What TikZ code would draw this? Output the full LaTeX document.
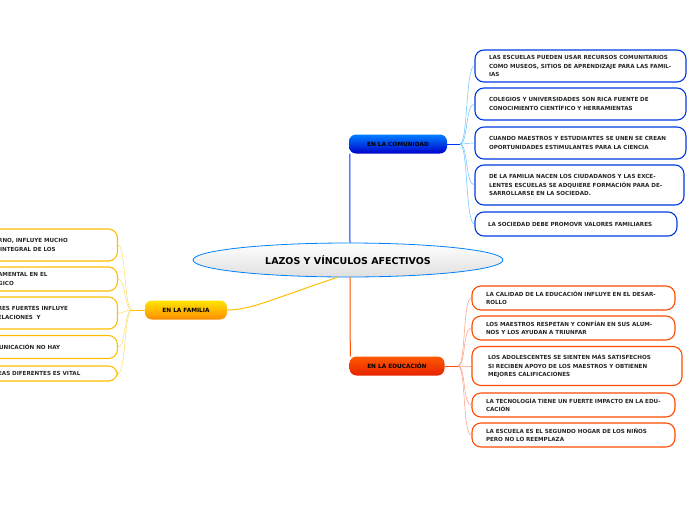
\documentclass[tikz,border=0pt]{standalone}
\usepackage{fontspec}
\setmainfont{DejaVu Sans}
\usetikzlibrary{shapes.geometric}
\begin{document}
\begin{tikzpicture}[x=1pt,y=-1pt,
  leaf/.style={draw, line width=1.1pt, rounded corners=9pt, fill=white, inner xsep=14pt, inner ysep=1pt,
    align=left, font=\bfseries\fontsize{5.6}{8.4}\selectfont, text=black!85},
  bl/.style={leaf, draw=blue!75!cyan!90!black},
  rd/.style={leaf, draw=orange!60!red},
  yl/.style={leaf, draw=orange!50!yellow},
  br/.style={rounded corners=7pt, font=\bfseries\fontsize{5.8}{7}\selectfont, text=black, minimum height=19pt, inner sep=0pt},
  lk/.style={line width=0.5pt}]
\useasboundingbox (0,0) rectangle (697,520);
\clip (0,0) rectangle (697,520);
% central
\node[draw=blue!50!cyan, line width=0.8pt, ellipse, top color=white, bottom color=gray!25, minimum width=310pt, minimum height=34pt, inner sep=0pt,
  font=\bfseries\fontsize{9.5}{11}\selectfont] (c) at (348,260) {LAZOS Y VÍNCULOS AFECTIVOS};
% branches
\node[br, top color=blue!50!cyan, bottom color=blue!80!black, minimum width=98pt] (com) at (398,144) {EN LA COMUNIDAD};
\node[br, top color=orange!70!red, bottom color=red!70!orange!90!black, minimum width=95pt] (edu) at (397,366) {EN LA EDUCACIÓN};
\node[br, top color=yellow!80!orange, bottom color=orange!90!yellow, minimum width=82pt] (fam) at (186,310) {EN LA FAMILIA};
\draw[blue!80!cyan, line width=1pt] ([xshift=1pt]com.south west) -- ([xshift=2pt]c.north);
\draw[orange!60!red, line width=1pt] ([xshift=2pt]c.south) -- ([xshift=1pt]edu.north west);
\draw[orange!50!yellow, line width=1pt] (c.-122) .. controls (270,300) and (250,310) .. (fam.east);
% comunidad leaves
\node[bl, text width=183pt, minimum height=32pt] (b1) at (580.5,66) {LAS ESCUELAS PUEDEN USAR RECURSOS COMUNITARIOS COMO MUSEOS, SITIOS DE APRENDIZAJE PARA LAS FAMILIAS};
\node[bl, text width=183pt, minimum height=32pt] (b2) at (580.5,104) {COLEGIOS Y UNIVERSIDADES SON RICA FUENTE DE CONOCIMIENTO CIENTÍFICO Y HERRAMIENTAS};
\node[bl, text width=183pt, minimum height=32pt] (b3) at (580.5,143) {CUANDO MAESTROS Y ESTUDIANTES SE UNEN SE CREAN OPORTUNIDADES ESTIMULANTES PARA LA CIENCIA};
\node[bl, text width=181pt, minimum height=40pt] (b4) at (579.5,185) {DE LA FAMILIA NACEN LOS CIUDADANOS Y LAS EXCELENTES ESCUELAS SE ADQUIERE FORMACIÓN PARA DESARROLLARSE EN LA SOCIEDAD.};
\node[bl, text width=176pt, minimum height=24pt, inner xsep=13pt] (b5) at (576,224) {LA SOCIEDAD DEBE PROMOVR VALORES FAMILIARES};
\coordinate (cj) at (460,144);
\draw[lk, blue!80!cyan] (com.east) -- (cj);
\foreach \n in {b1,b2,b3,b4,b5}
  \draw[lk, blue!40!cyan!60] (cj) .. controls (468,144) and ([xshift=-9pt]\n.west) .. (\n.west);
% educacion leaves
\node[rd, text width=175pt, minimum height=24pt] (r1) at (573.5,298) {LA CALIDAD DE LA EDUCACIÓN INFLUYE EN EL DESARROLLO};
\node[rd, text width=175pt, minimum height=24pt] (r2) at (573.5,328) {LOS MAESTROS RESPETAN Y CONFÍAN EN SUS ALUMNOS Y LOS AYUDAN A TRIUNFAR};
\node[rd, text width=178pt, minimum height=39pt, inner xsep=16pt] (r3) at (577,366) {LOS ADOLESCENTES SE SIENTEN MÁS SATISFECHOS SI RECIBEN APOYO DE LOS MAESTROS Y OBTIENEN MEJORES CALIFICACIONES};
\node[rd, text width=175pt, minimum height=24pt] (r4) at (573.5,405) {LA TECNOLOGÍA TIENE UN FUERTE IMPACTO EN LA EDUCACIÓN};
\node[rd, text width=175pt, minimum height=24pt] (r5) at (573.5,435) {LA ESCUELA ES EL SEGUNDO HOGAR DE LOS NIÑOS PERO NO LO REEMPLAZA};
\coordinate (ej) at (458,366);
\draw[lk, orange!60!red] (edu.east) -- (ej);
\foreach \n in {r1,r2,r3,r4,r5}
  \draw[lk, orange!40!red!50] (ej) .. controls (466,366) and ([xshift=-9pt]\n.west) .. (\n.west);
% familia leaves (cut off at left)
\node[yl, text width=120pt, minimum height=32pt, inner xsep=4pt, anchor=east] (y1) at (118,245) {ORNO, INFLUYE MUCHO\\O INTEGRAL DE LOS};
\node[yl, text width=120pt, minimum height=24pt, inner xsep=4pt, anchor=east] (y2) at (118,279) {DAMENTAL EN EL\\ÓGICO};
\node[yl, text width=120pt, minimum height=32pt, inner xsep=4pt, anchor=east] (y3) at (118,313) {ARES FUERTES INFLUYE\\RELACIONES\ \ Y};
\node[yl, text width=120pt, minimum height=23pt, inner xsep=4pt, anchor=east] (y4) at (118,347) {MUNICACIÓN NO HAY};
\node[yl, text width=120pt, minimum height=15pt, inner xsep=4pt, anchor=east] (y5) at (118,373.5) {DEAS DIFERENTES ES VITAL};
\coordinate (fj) at (132,310);
\draw[lk, orange!50!yellow] (fam.west) -- (fj);
\foreach \n in {y1,y2,y3,y4,y5}
  \draw[lk, yellow!60!orange!60] (fj) .. controls (124,310) and ([xshift=8pt]\n.east) .. (\n.east);
\end{tikzpicture}
\end{document}
